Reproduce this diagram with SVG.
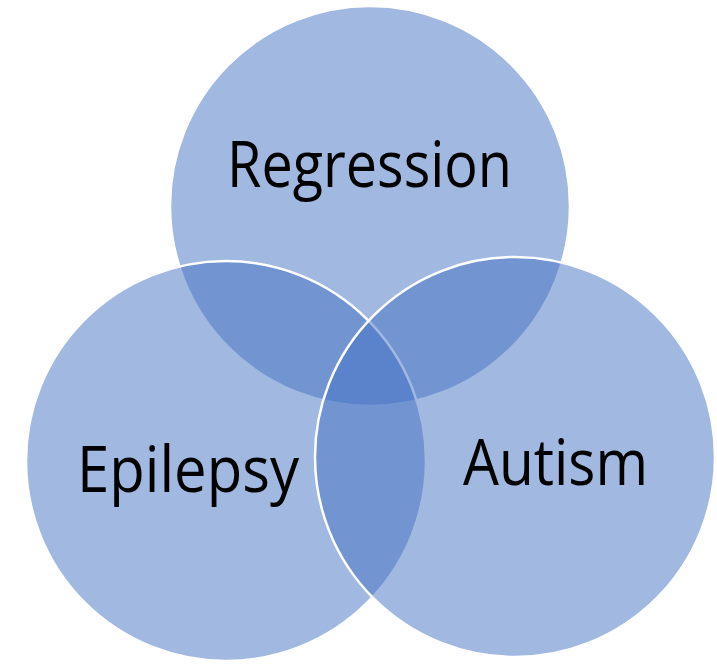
<svg xmlns="http://www.w3.org/2000/svg" width="717" height="665" viewBox="0 0 717 665">
<style>
.c{fill:#4472C4;fill-opacity:0.5;stroke:#FFFFFF;stroke-width:2.5}
.t{font-family:"Open Sans","Liberation Sans",Arial,sans-serif;font-size:64px;fill:#000000}
</style>
<rect width="717" height="665" fill="#FFFFFF"/>
<g id="regression"><circle class="c" cx="370" cy="206" r="200"/></g>
<g id="epilepsy"><circle class="c" cx="226" cy="461" r="200"/></g>
<g id="autism"><circle class="c" cx="515" cy="457" r="200"/></g>
<g id="connectors"/>
<g id="labels">
<text class="t" x="227" y="187" textLength="285" lengthAdjust="spacingAndGlyphs">Regression</text>
<text class="t" x="77" y="492" textLength="222" lengthAdjust="spacingAndGlyphs">Epilepsy</text>
<text class="t" x="463" y="485" textLength="185" lengthAdjust="spacingAndGlyphs">Autism</text>
</g>
</svg>
